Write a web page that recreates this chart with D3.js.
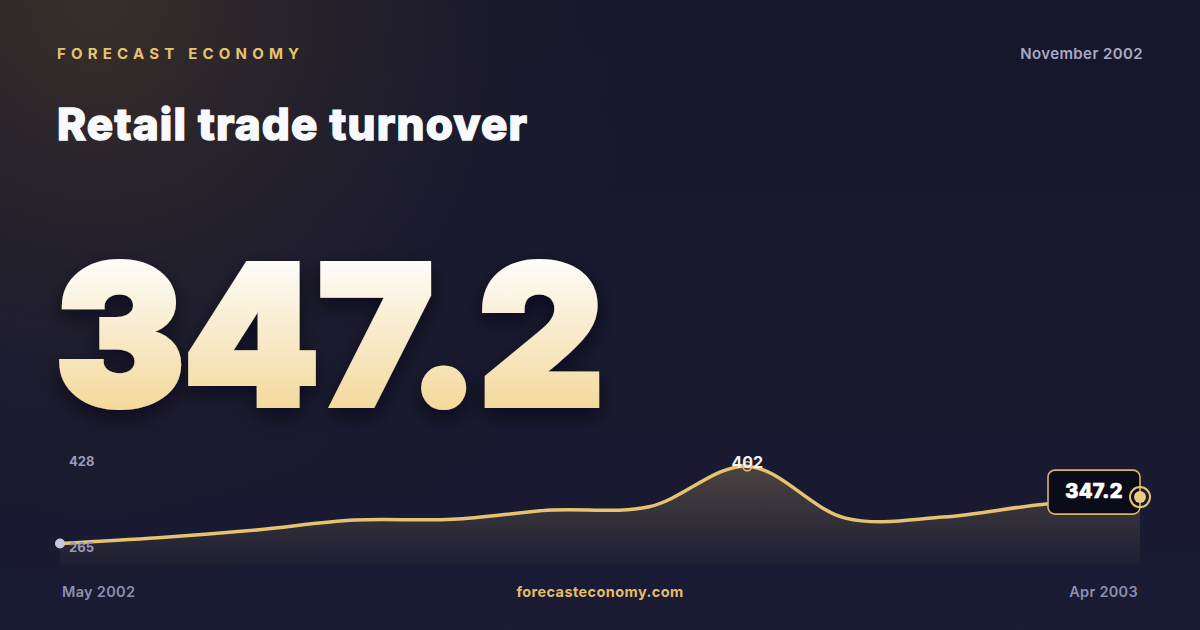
<!DOCTYPE html>
<html lang="en">
<head>
<meta charset="UTF-8">
<title>Retail trade turnover</title>
<script src="https://d3js.org/d3.v7.min.js"></script>
<style>
  html, body { margin: 0; padding: 0; background: #15162a; }
  svg { display: block; font-family: Inter, "Noto Sans", sans-serif; }
</style>
</head>
<body>
<div id="card"></div>
<script>
// chart data
const months = ["May 2002", "Jun 2002", "Jul 2002", "Aug 2002", "Sep 2002", "Oct 2002",
                "Nov 2002", "Dec 2002", "Jan 2003", "Feb 2003", "Mar 2003", "Apr 2003"];
const values = [265, 275.2, 289, 306.5, 307.8, 324.2, 330, 402, 310, 311.8, 334.3, 347.2];
const yTickLabels = [428, 265];
const latest = 347.2;

const W = 1200, H = 630;
const svg = d3.select("#card").append("svg")
    .attr("width", W)
    .attr("height", H);

const defs = svg.append("defs");

// background
const bg = defs.append("linearGradient").attr("id", "bg")
    .attr("x1", 0).attr("y1", 0).attr("x2", 0).attr("y2", 1);
bg.append("stop").attr("offset", "0%").attr("stop-color", "#17172a");
bg.append("stop").attr("offset", "100%").attr("stop-color", "#1a1b34");

const glow = defs.append("radialGradient").attr("id", "glow")
    .attr("cx", 0.08).attr("cy", 0.0).attr("r", 0.5)
    .attr("gradientTransform", "scale(1,1.9)");
glow.append("stop").attr("offset", "0%").attr("stop-color", "#393029").attr("stop-opacity", 1);
glow.append("stop").attr("offset", "55%").attr("stop-color", "#27232e").attr("stop-opacity", 0.5);
glow.append("stop").attr("offset", "100%").attr("stop-color", "#17172a").attr("stop-opacity", 0);

svg.append("rect").attr("width", W).attr("height", H).attr("fill", "url(#bg)");
svg.append("rect").attr("width", W).attr("height", H).attr("fill", "url(#glow)");

// header
svg.append("text")
    .attr("x", 57).attr("y", 59)
    .attr("fill", "#e8c36f")
    .attr("font-size", 15).attr("font-weight", 700)
    .attr("letter-spacing", "5.2px")
    .text("FORECAST ECONOMY");

svg.append("text")
    .attr("x", 1143).attr("y", 59)
    .attr("text-anchor", "end")
    .attr("fill", "#a9a9c7")
    .attr("font-size", 15).attr("font-weight", 600)
    .attr("letter-spacing", "0.4px")
    .text("November 2002");

svg.append("text")
    .attr("x", 57).attr("y", 140)
    .attr("fill", "#f8f9fc")
    .attr("stroke", "#f8f9fc").attr("stroke-width", 1.4)
    .attr("stroke-linejoin", "miter")
    .attr("font-size", 44).attr("font-weight", 800)
    .attr("letter-spacing", "1.2px")
    .text("Retail trade turnover");

// big number
const numGrad = defs.append("linearGradient").attr("id", "numGrad")
    .attr("gradientUnits", "userSpaceOnUse")
    .attr("x1", 0).attr("y1", 262).attr("x2", 0).attr("y2", 408);
numGrad.append("stop").attr("offset", "0%").attr("stop-color", "#fdfcf8");
numGrad.append("stop").attr("offset", "100%").attr("stop-color", "#f3d99c");

const shadow = defs.append("filter").attr("id", "shadow")
    .attr("x", "-10%").attr("y", "-10%").attr("width", "120%").attr("height", "130%");
shadow.append("feDropShadow")
    .attr("dx", 0).attr("dy", 8).attr("stdDeviation", 10)
    .attr("flood-color", "#05050c").attr("flood-opacity", 0.6);

svg.append("text")
    .attr("x", 55).attr("y", 405)
    .attr("fill", "url(#numGrad)")
    .attr("stroke", "url(#numGrad)").attr("stroke-width", 6)
    .attr("stroke-linejoin", "miter").attr("stroke-miterlimit", 4)
    .attr("filter", "url(#shadow)")
    .attr("font-size", 194).attr("font-weight", 900)
    .attr("letter-spacing", "-1.5px")
    .text(latest.toFixed(1));

// sparkline
const x = d3.scalePoint()
    .domain(months)
    .range([60, 1140]);

const y = d3.scaleLinear()
    .domain([265, 428])
    .range([543.5, 451.5]);

const plotBottom = 565;

const areaGrad = defs.append("linearGradient").attr("id", "areaGrad")
    .attr("gradientUnits", "userSpaceOnUse")
    .attr("x1", 0).attr("y1", 460).attr("x2", 0).attr("y2", plotBottom);
areaGrad.append("stop").attr("offset", "0%").attr("stop-color", "#e8c36f").attr("stop-opacity", 0.26);
areaGrad.append("stop").attr("offset", "100%").attr("stop-color", "#e8c36f").attr("stop-opacity", 0.02);

const pts = months.map((m, i) => ({ m, v: values[i] }));

const area = d3.area()
    .x(d => x(d.m))
    .y0(plotBottom)
    .y1(d => y(d.v))
    .curve(d3.curveCatmullRom);

const line = d3.line()
    .x(d => x(d.m))
    .y(d => y(d.v))
    .curve(d3.curveCatmullRom);

svg.append("path")
    .datum(pts)
    .attr("d", area)
    .attr("fill", "url(#areaGrad)");

svg.append("path")
    .datum(pts)
    .attr("d", line)
    .attr("fill", "none")
    .attr("stroke", "#e8c36f")
    .attr("stroke-width", 3.5)
    .attr("stroke-linejoin", "round")
    .attr("stroke-linecap", "round");

// y labels (max / min)
svg.selectAll(".ylab")
    .data(yTickLabels)
    .enter()
    .append("text")
    .attr("class", "ylab")
    .attr("x", 69)
    .attr("y", (d, i) => i === 0 ? 466 : 552)
    .attr("fill", "#9a9ab8")
    .attr("font-size", 13).attr("font-weight", 700)
    .text(d => d);

// start point
svg.append("circle")
    .attr("cx", x(months[0])).attr("cy", y(values[0]))
    .attr("r", 5)
    .attr("fill", "#c7c8e0");

// peak
const peakIdx = d3.maxIndex(values);
svg.append("circle")
    .attr("cx", x(months[peakIdx])).attr("cy", y(values[peakIdx]))
    .attr("r", 4.5)
    .attr("fill", "none")
    .attr("stroke", "#e8c36f")
    .attr("stroke-width", 1.5);
svg.append("text")
    .attr("x", x(months[peakIdx])).attr("y", y(values[peakIdx]) + 2)
    .attr("text-anchor", "middle")
    .attr("fill", "#f2f2f6")
    .attr("font-size", 16).attr("font-weight", 700)
    .text(d3.format("d")(values[peakIdx]));

// last value box
const lx = x(months[months.length - 1]), ly = y(values[values.length - 1]);
svg.append("rect")
    .attr("x", lx - 92).attr("y", ly - 27)
    .attr("width", 92).attr("height", 44)
    .attr("rx", 7)
    .attr("fill", "#0b0c19")
    .attr("stroke", "#d9b560")
    .attr("stroke-width", 1.6);
svg.append("text")
    .attr("x", lx - 46).attr("y", ly + 1)
    .attr("text-anchor", "middle")
    .attr("fill", "#ffffff")
    .attr("stroke", "#ffffff").attr("stroke-width", 0.7)
    .attr("font-size", 20).attr("font-weight", 800)
    .attr("letter-spacing", "0.3px")
    .text(latest.toFixed(1));
svg.append("circle")
    .attr("cx", lx).attr("cy", ly)
    .attr("r", 10)
    .attr("fill", "none")
    .attr("stroke", "#e8c36f")
    .attr("stroke-width", 2);
svg.append("circle")
    .attr("cx", lx).attr("cy", ly)
    .attr("r", 6)
    .attr("fill", "#ebcb80");

// footer
svg.append("text")
    .attr("x", 62).attr("y", 597)
    .attr("fill", "#8e8fae")
    .attr("font-size", 14.5).attr("font-weight", 600)
    .attr("letter-spacing", "0.3px")
    .text(months[0]);

svg.append("text")
    .attr("x", 600).attr("y", 597)
    .attr("text-anchor", "middle")
    .attr("fill", "#e3bd6b")
    .attr("font-size", 14.5).attr("font-weight", 700)
    .attr("letter-spacing", "0.4px")
    .text("forecasteconomy.com");

svg.append("text")
    .attr("x", 1138).attr("y", 597)
    .attr("text-anchor", "end")
    .attr("fill", "#8e8fae")
    .attr("font-size", 14.5).attr("font-weight", 600)
    .attr("letter-spacing", "0.3px")
    .text(months[months.length - 1]);
</script>
</body>
</html>
